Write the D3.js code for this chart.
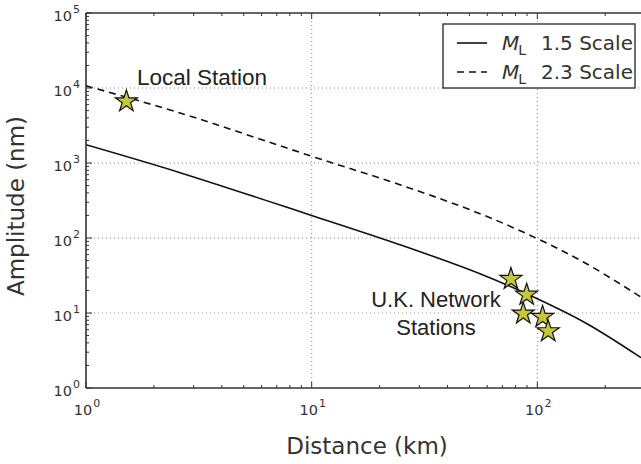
<!DOCTYPE html>
<html>
<head>
<meta charset="utf-8">
<script src="https://cdn.jsdelivr.net/npm/d3@7"></script>
<style>
  body { margin: 0; background: #fff; }
  svg { display: block; }
</style>
</head>
<body>
<div id="chart"></div>
<script>
///// DATOS /////
let distKm = [1, 2.61, 10, 24.6, 55.7, 100, 166, 288];
let ml15Amp = [1750, 743, 200, 81.5, 33.4, 15.5, 7.2, 2.54];
let ml23Amp = [10700, 4650, 1230, 514, 211, 98, 45, 16.3];

let stationDist = [1.51, 76.4, 89.7, 86.6, 105.5, 111.7];
let stationAmp = [6630, 28.4, 17.5, 9.8, 8.85, 5.7];

let xTicks = [1, 10, 100];
let yTicks = [1, 10, 100, 1000, 10000, 100000];
let legendLabels = ['1.5 Scale', '2.3 Scale'];

///// GRÁFICO /////
let width = 641, height = 464;
let plot = {left: 86, right: 641, top: 13, bottom: 388};
let axisColor = '#333', tickFont = 'DejaVu Sans, sans-serif';

let svg = d3.select('#chart').append('svg')
    .attr('width', width)
    .attr('height', height);

let x = d3.scaleLog().domain([1, 288]).range([plot.left, plot.right]);
let y = d3.scaleLog().domain([1, 100000]).range([plot.bottom, plot.top]);

svg.append('clipPath').attr('id', 'clip')
  .append('rect')
    .attr('x', plot.left).attr('y', plot.top)
    .attr('width', plot.right - plot.left).attr('height', plot.bottom - plot.top);

//Rejilla punteada
let grid = svg.append('g').attr('clip-path', 'url(#clip)');
grid.selectAll('.gx').data(xTicks.slice(1))
  .enter().append('line')
    .attr('x1', d => x(d)).attr('x2', d => x(d))
    .attr('y1', plot.top).attr('y2', plot.bottom)
    .attr('stroke', '#888').attr('stroke-width', 1).attr('stroke-dasharray', '1,3');
grid.selectAll('.gy').data(yTicks.slice(1, -1))
  .enter().append('line')
    .attr('x1', plot.left).attr('x2', plot.right)
    .attr('y1', d => y(d)).attr('y2', d => y(d))
    .attr('stroke', '#888').attr('stroke-width', 1).attr('stroke-dasharray', '1,3');

//Líneas
let line = d3.line()
    .x(d => x(d[0]))
    .y(d => y(d[1]))
    .curve(d3.curveCatmullRom.alpha(0.5));

let lines = svg.append('g').attr('clip-path', 'url(#clip)');
lines.append('path')
    .attr('d', line(distKm.map((d, i) => [d, ml15Amp[i]])))
    .attr('fill', 'none').attr('stroke', '#111').attr('stroke-width', 1.6);
lines.append('path')
    .attr('d', line(distKm.map((d, i) => [d, ml23Amp[i]])))
    .attr('fill', 'none').attr('stroke', '#111').attr('stroke-width', 1.6)
    .attr('stroke-dasharray', '7,5');

//Ejes: marcos y marcas hacia dentro
let axes = svg.append('g');
axes.append('line').attr('x1', plot.left).attr('x2', plot.left).attr('y1', plot.top).attr('y2', plot.bottom)
    .attr('stroke', axisColor).attr('stroke-width', 1.6);
axes.append('line').attr('x1', plot.left).attr('x2', plot.right).attr('y1', plot.bottom).attr('y2', plot.bottom)
    .attr('stroke', axisColor).attr('stroke-width', 1.6);
axes.append('line').attr('x1', plot.left).attr('x2', plot.right).attr('y1', plot.top).attr('y2', plot.top)
    .attr('stroke', axisColor).attr('stroke-width', 1.6);

let xMinor = [], yMinor = [];
for (let dec = 1; dec <= 100; dec *= 10) {
    for (let m = 2; m <= 9; m++) {
        if (dec * m <= 288) xMinor.push(dec * m);
    }
}
for (let dec = 1; dec <= 10000; dec *= 10) {
    for (let m = 2; m <= 9; m++) yMinor.push(dec * m);
}

function addTicks(vals, len) {
    vals.forEach(function(v) {
        axes.append('line').attr('x1', plot.left).attr('x2', plot.left + len)
            .attr('y1', y(v)).attr('y2', y(v)).attr('stroke', axisColor).attr('stroke-width', 1);
    });
}
addTicks(yTicks, 6);
addTicks(yMinor, 3);

function addXTicks(vals, len) {
    vals.forEach(function(v) {
        axes.append('line').attr('x1', x(v)).attr('x2', x(v))
            .attr('y1', plot.bottom).attr('y2', plot.bottom - len).attr('stroke', axisColor).attr('stroke-width', 1);
        axes.append('line').attr('x1', x(v)).attr('x2', x(v))
            .attr('y1', plot.top).attr('y2', plot.top + len).attr('stroke', axisColor).attr('stroke-width', 1);
    });
}
addXTicks(xTicks, 6);
addXTicks(xMinor, 3);

//Etiquetas de potencias de 10
function powLabel(sel, d) {
    let exp = Math.round(Math.log10(d));
    sel.append('tspan').text('10');
    sel.append('tspan').attr('dy', -8).attr('dx', 1).attr('font-size', 11).text(exp);
}

yTicks.forEach(function(d) {
    let t = axes.append('text')
        .attr('x', plot.left - 6).attr('y', y(d) + 8)
        .attr('text-anchor', 'end')
        .attr('font-family', tickFont).attr('font-size', 14.5).attr('fill', axisColor);
    powLabel(t, d);
});
xTicks.forEach(function(d) {
    let t = axes.append('text')
        .attr('x', x(d) + 1).attr('y', plot.bottom + 27)
        .attr('text-anchor', 'middle')
        .attr('font-family', tickFont).attr('font-size', 14.5).attr('fill', axisColor);
    powLabel(t, d);
});

//Títulos de ejes
svg.append('text')
    .attr('x', 367).attr('y', 454)
    .attr('text-anchor', 'middle')
    .attr('font-family', tickFont).attr('font-size', 23).attr('fill', axisColor)
    .text('Distance (km)');
svg.append('text')
    .attr('transform', 'translate(24,206) rotate(-90)')
    .attr('text-anchor', 'middle')
    .attr('font-family', tickFont).attr('font-size', 23).attr('fill', axisColor)
    .text('Amplitude (nm)');

//Estaciones (estrellas)
let star = d3.symbol().type(d3.symbolStar).size(150);
svg.append('g').selectAll('path')
    .data(stationDist.map((d, i) => [d, stationAmp[i]]))
    .enter().append('path')
    .attr('d', star)
    .attr('transform', d => 'translate(' + x(d[0]) + ',' + y(d[1]) + ')')
    .attr('fill', '#c6c73a').attr('stroke', '#111').attr('stroke-width', 1.2)
    .attr('stroke-linejoin', 'miter');

//Anotaciones
let annFont = 'Liberation Sans, Arial, sans-serif';
svg.append('text').attr('x', 137).attr('y', 85)
    .attr('font-family', annFont).attr('font-size', 22.5).attr('fill', '#222')
    .text('Local Station');
svg.append('text').attr('x', 436).attr('y', 307).attr('text-anchor', 'middle')
    .attr('font-family', annFont).attr('font-size', 22).attr('fill', '#222')
    .text('U.K. Network');
svg.append('text').attr('x', 436).attr('y', 335).attr('text-anchor', 'middle')
    .attr('font-family', annFont).attr('font-size', 22).attr('fill', '#222')
    .text('Stations');

//Leyenda
let legend = svg.append('g');
legend.append('rect')
    .attr('x', 443).attr('y', 24).attr('width', 192).attr('height', 64)
    .attr('fill', '#fff').attr('stroke', axisColor).attr('stroke-width', 1.4);

legendLabels.forEach(function(lbl, i) {
    let ly = 43 + i * 29;
    legend.append('line')
        .attr('x1', 457).attr('x2', 487).attr('y1', ly).attr('y2', ly)
        .attr('stroke', '#111').attr('stroke-width', 1.6)
        .attr('stroke-dasharray', i == 1 ? '7,5' : null);
    let t = legend.append('text')
        .attr('x', 502).attr('y', ly + 7)
        .attr('font-family', tickFont).attr('font-size', 20).attr('fill', axisColor);
    t.append('tspan').attr('font-style', 'italic').text('M');
    t.append('tspan').attr('dy', 5).attr('dx', -1).attr('font-size', 14).text('L');
    t.append('tspan').attr('dy', -5).attr('x', 541).text(lbl);
});
</script>
</body>
</html>
